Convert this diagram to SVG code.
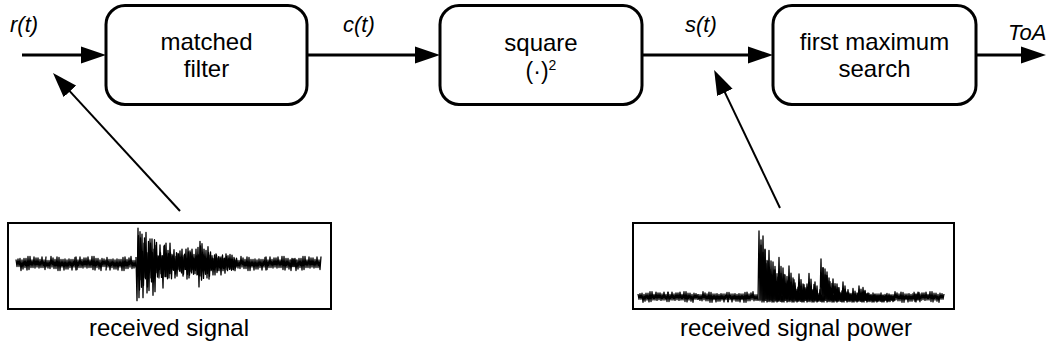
<svg xmlns="http://www.w3.org/2000/svg" width="1051" height="354" viewBox="0 0 1051 354">
<style>
  .box{fill:#fff;stroke:#000;stroke-width:3}
  .lbl{font-family:"Liberation Sans",Arial,sans-serif;font-size:24px;fill:#000;text-anchor:middle}
  .sig{font-family:"Liberation Sans",Arial,sans-serif;font-size:22px;font-style:italic;fill:#000}
  .wire{fill:none;stroke:#000;stroke-width:3;marker-end:url(#head)}
  .ptr{fill:none;stroke:#000;stroke-width:2;marker-end:url(#head)}
  .plot{fill:#fff;stroke:#000;stroke-width:2}
  .wave{fill:none;stroke:#000;stroke-width:1.3;stroke-linejoin:round;vector-effect:non-scaling-stroke}
</style>
<defs>
  <marker id="head" markerUnits="userSpaceOnUse" markerWidth="26" markerHeight="18" refX="17" refY="9" orient="auto">
    <path d="M0,0.5 L25,9 L0,17.5 z" fill="#000"/>
  </marker>
  <!-- short stretch of background noise, reused along the traces -->
  <path id="nz" class="wave" d="M0,-4 L1,3 2,-4.5 3,3 4,-5 5,7 6,-3.5 7,5.5 8,-5 9,4 10,-5 11,6.5 12,-7 13,6 14,-7 15,4 16,-3.5 17,4 18,-6.5 19,4.5 20,-5.5 21,3.5 22,-5.5 23,4.5 24,-4 25,4 26,-6.5 27,4 28,-3.5 29,6 30,-7"/>
</defs>

<!-- processing chain -->
<g id="connectors">
  <path class="wire" d="M22,55 H98"/>
  <path class="wire" d="M307,55 H432"/>
  <path class="wire" d="M642,55 H765"/>
  <path class="wire" d="M976,55 H1038"/>
  <path class="ptr" d="M180,211 L58.4,78.9"/>
  <path class="ptr" d="M780,208 L717.6,77.1"/>
</g>

<g id="label-r">
  <text class="sig" x="10" y="32">r(t)</text>
</g>
<g id="label-c">
  <text class="sig" x="343" y="32">c(t)</text>
</g>
<g id="label-s">
  <text class="sig" x="685" y="32">s(t)</text>
</g>
<g id="label-toa">
  <text class="sig" x="1008" y="40">ToA</text>
</g>

<g id="matched-filter">
  <rect class="box" x="106" y="5.5" width="201" height="99" rx="19"/>
  <text class="lbl" x="206.5" y="50">matched</text>
  <text class="lbl" x="206.5" y="77">filter</text>
</g>

<g id="square">
  <rect class="box" x="440" y="5.5" width="202" height="99" rx="19"/>
  <text class="lbl" x="541" y="51">square</text>
  <text class="lbl" x="541" y="79" style="font-size:23px">(·)<tspan dy="-9" style="font-size:14px">2</tspan></text>
</g>

<g id="first-maximum-search">
  <rect class="box" x="773" y="5.5" width="203" height="99" rx="19"/>
  <text class="lbl" x="874.5" y="50">first maximum</text>
  <text class="lbl" x="874.5" y="77">search</text>
</g>

<!-- received signal trace -->
<g id="received-signal">
  <rect class="plot" x="8" y="223" width="323" height="86"/>
  <use href="#nz" transform="translate(16,263.5)"/>
  <use href="#nz" transform="translate(46,263.5) scale(1,-1)"/>
  <use href="#nz" transform="translate(106,263.5) scale(-1,1)"/>
  <use href="#nz" transform="translate(136,263.5) scale(-1,-1)"/>
  <g transform="translate(0,263.5) scale(1,1.2) translate(0,-263.5)">
    <path id="burst" class="wave" d="M136,258 L137,294.5 138,234 139,292 140,237 141,277 142,239 143,292 144,246.5 145,275 146,237.5 147,288 148,254.5 149,286 150,243 151,275.5 152,243 153,290 154,251.5 155,287 156,248.5 157,271 158,257 159,275.5 160,248 161,272 162,257 163,284 164,249 165,274.5 166,246.5 167,274.5 168,252.5 169,275.5 170,246.5 171,272 172,256 173,268.5 174,252 175,275.5 176,257.5 177,274 178,255 179,268.5 180,253 181,270 182,251.5 183,274 184,257 185,268.5 186,251.5 187,276.5 188,250.5 189,275.5 190,253 191,270 192,251.5 193,268.5 194,256 195,272 196,251.5 197,273 198,250 199,283 200,245 201,274 202,247 203,269.5 204,251.5 205,269 206,252.5 207,275.5 208,249.5 209,276.5 210,256.5 211,269.5 212,257 213,273 214,259.5 215,273 216,255.5 217,271 218,259 219,269.5 220,258 221,273 222,258 223,269.5 224,259.5 225,271.5 226,255.5 227,268.5 228,257 229,266.5 230,256 231,268 232,256.5 233,268.5 234,258.5 235,269.5 236,260.5"/>
    <use href="#burst" transform="translate(1.5,263.5) scale(1,-0.75) translate(0,-263.5)"/>
  </g>
  <use href="#nz" transform="translate(236,263.5) scale(1,-1)"/>
  <use href="#nz" transform="translate(296,263.5) scale(-1,1)"/>
  <use href="#nz" transform="translate(291,263.5)"/>
  <text class="lbl" x="169" y="336">received signal</text>
</g>

<!-- received power trace -->
<g id="received-signal-power">
  <rect class="plot" x="633" y="223" width="321" height="86"/>
  <use href="#nz" transform="translate(638,297) scale(1,0.75)"/>
  <use href="#nz" transform="translate(698,297) scale(-1,0.75)"/>
  <use href="#nz" transform="translate(698,297) scale(1,-0.75)"/>
  <use href="#nz" transform="translate(758,297) scale(-1,-0.75)"/>
  <path id="pburst" class="wave" d="M758,301 L759,231 760,299.5 761,240 762,302 763,236 764,300 765,250 766,298.5 767,275.5 768,301.5 769,250.5 770,300 771,275 772,302 773,262 774,299 775,266.5 776,301 777,293 778,301 779,257.5 780,299.5 781,273.5 782,302 783,268 784,300 785,294 786,298.5 787,276.5 788,301.5 789,266 790,300 791,287 792,302 793,278 794,299 795,286 796,301 797,292 798,301 799,274 800,299.5 801,289 802,302 803,284 804,300 805,289 806,298.5 807,284 808,301.5 809,273.5 810,300 811,286.5 812,302 813,294 814,299 815,282 816,301 817,293.5 818,301 819,293.5 820,299.5 821,259 822,302 823,268 824,300 825,269 826,298.5 827,272 828,301.5 829,291.5 830,300 831,294 832,302 833,279 834,299 835,286.5 836,301 837,284 838,301 839,294 840,299.5 841,293.5 842,302 843,282 844,300 845,289.5 846,298.5 847,294 848,301.5 849,293 850,300 851,293.5 852,302 853,288.5 854,299 855,294 856,301 857,293 858,301 859,286 860,299.5 861,294.5 862,302 863,287.5 864,300 865,291.5 866,298.5 867,294 868,301.5 869,293.5 870,300 871,294.5 872,302 873,293 874,299 875,294 876,301 877,294 878,301 879,294 880,299.5 881,293 882,302 883,295.5 884,300 885,294.5 886,298.5 887,293.5 888,301.5 889,294 890,300"/>
  <use href="#pburst" transform="translate(2,302) scale(1,0.8) translate(0,-302)"/>
  <use href="#pburst" transform="translate(5,302) scale(1,0.62) translate(0,-302)"/>
  <use href="#nz" transform="translate(890,297) scale(1,-0.75)"/>
  <use href="#nz" transform="translate(944,297) scale(-1,0.75)"/>
  <text class="lbl" x="796" y="336">received signal power</text>
</g>
</svg>
